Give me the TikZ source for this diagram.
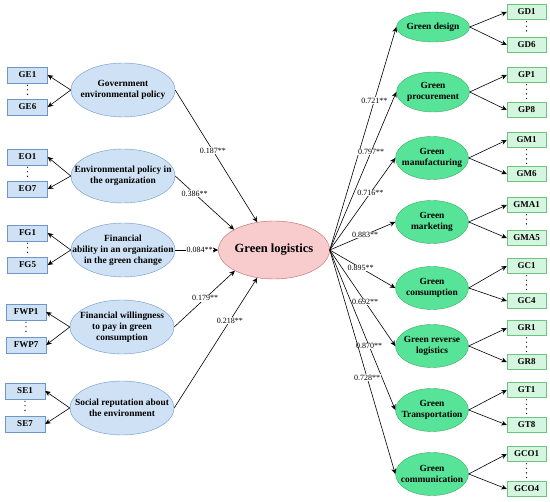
\documentclass[tikz,border=0pt]{standalone}
\usepackage{fontspec}
\setmainfont{Liberation Serif}
\usetikzlibrary{shapes.geometric,arrows.meta}
\definecolor{blfill}{RGB}{207,226,245}
\definecolor{bldraw}{RGB}{110,150,200}
\definecolor{grfill}{RGB}{88,228,152}
\definecolor{grdraw}{RGB}{60,170,100}
\definecolor{gbfill}{RGB}{212,246,222}
\definecolor{gbdraw}{RGB}{110,195,130}
\definecolor{pkfill}{RGB}{248,204,204}
\definecolor{pkdraw}{RGB}{190,100,100}
\tikzset{
  lat/.style={ellipse, draw=bldraw, fill=blfill, inner xsep=-30pt, inner ysep=-20pt, minimum width=104pt, minimum height=54pt, align=center, font=\fontsize{9.4}{10.8}\selectfont\bfseries},
  gre/.style={ellipse, draw=grdraw, fill=grfill, inner xsep=-30pt, inner ysep=-20pt, minimum width=73pt, minimum height=43pt, align=center, font=\fontsize{9.4}{10.8}\selectfont\bfseries},
  core/.style={ellipse, draw=pkdraw, fill=pkfill, inner sep=0pt, minimum width=104pt, minimum height=58pt, font=\fontsize{12.5}{14}\selectfont\bfseries},
  ibox/.style={draw=bldraw, fill=blfill, inner sep=0pt, minimum width=40pt, minimum height=16pt, font=\fontsize{9}{10}\selectfont\bfseries},
  obox/.style={draw=gbdraw, fill=gbfill, inner sep=0pt, minimum width=39pt, minimum height=15pt, font=\fontsize{9}{10}\selectfont\bfseries},
  fl/.style={-{Stealth[length=5.5pt,width=5pt]}, line width=0.6pt},
  cf/.style={fill=white, inner sep=0.6pt, font=\fontsize{8}{9}\selectfont},
  vd/.style={line width=1.3pt, dash pattern=on 0pt off 4.6pt, line cap=round, shorten >=2pt, shorten <=2pt},
}
\begin{document}
\begin{tikzpicture}[x=1pt, y=-1pt]
\useasboundingbox (0,0) rectangle (550,502);
\node[core] (gl) at (274,250) {Green logistics};
% antecedents
\node[lat] (gov) at (123,90) {Government\\environmental policy};
\node[lat] (eo) at (123,176) {Environmental policy in\\the organization};
\node[lat] (fg) at (123,250) {Financial\\ability in an organization\\in the green change};
\node[lat] (fwp) at (122,327) {Financial willingness\\to pay in green\\consumption};
\node[lat] (se) at (122,408) {Social reputation about\\the environment};
\foreach \n/\x/\ya/\yb/\ta/\tb in {gov/27.5/75/107/GE1/GE6, eo/27.5/157/189/EO1/EO7, fg/27.5/233/265/FG1/FG5, fwp/26/312/345/FWP1/FWP7, se/25/391/424/SE1/SE7}{
  \node[ibox] (\n1) at (\x,\ya) {\ta};
  \node[ibox] (\n2) at (\x,\yb) {\tb};
  \draw[fl] (\n.west) -- (\n1.east);
  \draw[fl] (\n.west) -- (\n2.east);
  \draw[vd] (\n1) -- (\n2);
}
\draw[fl] (gov.east) -- node[cf,pos=.46] {0.187**} (gl.121);
\draw[fl] (eo.east) -- node[cf,pos=.33] {0.386**} (gl.153);
\draw[fl] (fg.east) -- node[cf,pos=.57] {0.084**} (gl.west);
\draw[fl] (fwp.east) -- node[cf,pos=.51] {0.179**} (gl.208);
\draw[fl] (se.east) -- node[cf,pos=.67] {0.218**} (gl.239);
% dimensions
\node[gre, minimum height=30pt] (gd) at (433,27) {Green design};
\node[gre, minimum height=40pt] (gp) at (433,92) {Green\\procurement};
\node[gre] (gm) at (432,158) {Green\\manufacturing};
\node[gre] (gma) at (432,222) {Green\\marketing};
\node[gre] (gc) at (432,288) {Green\\consumption};
\node[gre] (gr) at (432,346) {Green reverse\\logistics};
\node[gre] (gt) at (432,410) {Green\\Transportation};
\node[gre] (gco) at (432,474) {Green\\communication};
\foreach \n/\ya/\yb/\ta/\tb in {gd/12/45/GD1/GD6, gp/75/110/GP1/GP8, gm/140/174/GM1/GM6, gma/205/238/GMA1/GMA5, gc/266/301/GC1/GC4, gr/328/362/GR1/GR8, gt/390/425/GT1/GT8, gco/454/489/GCO1/GCO4}{
  \node[obox] (\n1) at (526.5,\ya) {\ta};
  \node[obox] (\n2) at (526.5,\yb) {\tb};
  \draw[fl] (\n.east) -- (\n1.west);
  \draw[fl] (\n.east) -- (\n2.west);
  \draw[vd] (\n1) -- (\n2);
}
\foreach \n/\p/\v in {gd/.67/0.721, gp/.62/0.797, gm/.62/0.716, gma/.54/0.883, gc/.47/0.895, gr/.54/0.692, gt/.6/0.870, gco/.57/0.728}
  \draw[fl] (gl.east) -- node[cf,pos=\p] {\v**} (\n.west);
\end{tikzpicture}
\end{document}
